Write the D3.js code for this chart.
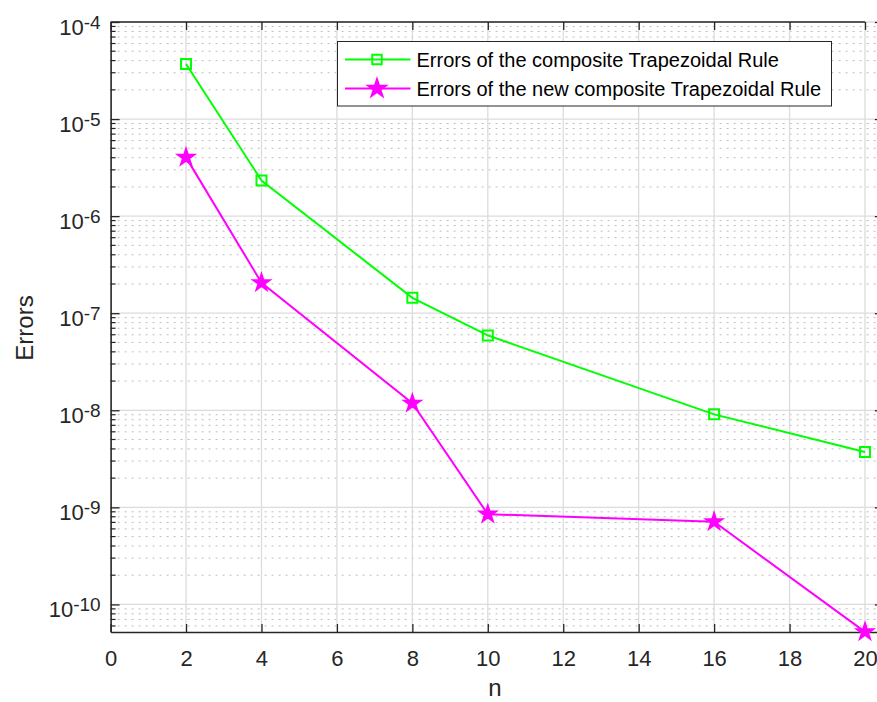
<!DOCTYPE html>
<html>
<head>
<meta charset="utf-8">
<script src="https://cdn.jsdelivr.net/npm/d3@7"></script>
<style>
body{margin:0;background:#fff}
text{font-family:"Liberation Sans",Arial,Helvetica,sans-serif}
</style>
</head>
<body>
<svg width="877" height="702"></svg>
<script>
// data
var nValues = [2, 4, 8, 10, 16, 20];
var errTrap = [3.69e-5, 2.33e-6, 1.44e-7, 5.91e-8, 9.08e-9, 3.71e-9];
var errNewTrap = [4.03e-6, 2.06e-7, 1.18e-8, 8.51e-10, 7.10e-10, 5.22e-11];
var seriesNames = ["Errors of the composite Trapezoidal Rule", "Errors of the new composite Trapezoidal Rule"];
var xTicks = [0, 2, 4, 6, 8, 10, 12, 14, 16, 18, 20];
var yTicks = [1e-10, 1e-9, 1e-8, 1e-7, 1e-6, 1e-5, 1e-4];

var axisColor = "#262626";
var plotLeft = 110.6, plotTop = 22, plotBottom = 632;

var svg = d3.select("svg");

var x = d3.scaleLinear().domain([0, 20.5]).range([plotLeft, plotLeft + 20.5 * 37.72]);
var y = d3.scaleLog().domain([5.2e-11, 1e-4]).range([plotBottom, plotTop]);

// minor values 2..9 per decade
var yMinor = [];
for (var e = -11; e < -4; e++) {
  for (var m = 2; m <= 9; m++) {
    var v = m * Math.pow(10, e);
    if (v >= y.domain()[0] && v <= y.domain()[1]) yMinor.push(v);
  }
}

var grid = svg.append("g");
grid.selectAll(".ymin").data(yMinor).enter().append("line")
  .attr("x1", plotLeft).attr("x2", 877)
  .attr("y1", function(d){ return y(d); }).attr("y2", function(d){ return y(d); })
  .attr("stroke", "#bdbdbd").attr("stroke-width", 1).attr("stroke-dasharray", "2,5");
grid.selectAll(".ymaj").data(yTicks).enter().append("line")
  .attr("x1", plotLeft).attr("x2", 877)
  .attr("y1", function(d){ return y(d); }).attr("y2", function(d){ return y(d); })
  .attr("stroke", "#dcdcdc").attr("stroke-width", 1.3);
grid.selectAll(".xmaj").data(xTicks.slice(1)).enter().append("line")
  .attr("x1", function(d){ return x(d); }).attr("x2", function(d){ return x(d); })
  .attr("y1", plotTop).attr("y2", plotBottom)
  .attr("stroke", "#dcdcdc").attr("stroke-width", 1.3);

// axes
var xAxis = d3.axisBottom(x).tickValues(xTicks).tickSizeInner(-8).tickSizeOuter(0).tickPadding(18);
var gx = svg.append("g").attr("transform", "translate(0," + plotBottom + ")").call(xAxis);
gx.selectAll("text").attr("font-size", 22).attr("fill", axisColor);

var gxTop = svg.append("g").attr("transform", "translate(0," + plotTop + ")")
  .call(d3.axisTop(x).tickValues(xTicks).tickSizeInner(-8).tickSizeOuter(0).tickFormat(""));
gxTop.select(".domain").remove();
svg.append("line").attr("x1", plotLeft).attr("x2", x(20)).attr("y1", plotTop).attr("y2", plotTop)
  .attr("stroke", axisColor).attr("stroke-width", 1.6);

var gy = svg.append("g").attr("transform", "translate(" + plotLeft + ",0)")
  .call(d3.axisLeft(y).tickValues(yTicks).tickSizeInner(-9).tickSizeOuter(0).tickPadding(10));
gy.selectAll(".tick text").text(null).attr("dy", 12).attr("font-size", 22).attr("fill", axisColor)
  .each(function(d){
    var t = d3.select(this);
    t.append("tspan").text("10");
    t.append("tspan").attr("dy", -6).attr("font-size", 19).text(Math.round(Math.log10(d)));
  });
gy.selectAll(".minor").data(yMinor).enter().append("line")
  .attr("x1", 0).attr("x2", 5)
  .attr("y1", function(d){ return y(d); }).attr("y2", function(d){ return y(d); })
  .attr("stroke", axisColor).attr("stroke-width", 1.2);

var gyR = svg.append("g").attr("transform", "translate(" + x(20.5) + ",0)")
  .call(d3.axisRight(y).tickValues(yTicks).tickSizeInner(-9).tickSizeOuter(0).tickFormat(""));

svg.selectAll(".domain").attr("stroke", axisColor).attr("stroke-width", 1.6);
svg.selectAll(".tick line").attr("stroke", axisColor).attr("stroke-width", 1.3);

// axis labels
svg.append("text").attr("x", 495).attr("y", 696).attr("text-anchor", "middle")
  .attr("font-size", 24).attr("fill", axisColor).text("n");
svg.append("text").attr("transform", "translate(33,328) rotate(-90)").attr("text-anchor", "middle")
  .attr("font-size", 24).attr("fill", axisColor).text("Errors");

// series
var line = d3.line().x(function(d){ return x(d[0]); }).y(function(d){ return y(d[1]); });
var series = [
  {name: seriesNames[0], values: errTrap, color: "#00ff00", symbol: d3.symbolSquare, size: 100, fill: "none", legSize: 90},
  {name: seriesNames[1], values: errNewTrap, color: "#ff00ff", symbol: d3.symbolStar, size: 80, fill: "#ff00ff", legSize: 95}
];

series.forEach(function(s){
  var pts = nValues.map(function(n, i){ return [n, s.values[i]]; });
  svg.append("path").datum(pts).attr("d", line)
    .attr("fill", "none").attr("stroke", s.color).attr("stroke-width", 2);
  svg.selectAll(null).data(pts).enter().append("path")
    .attr("d", d3.symbol().type(s.symbol).size(s.size))
    .attr("transform", function(d){ return "translate(" + x(d[0]) + "," + y(d[1]) + ")"; })
    .attr("fill", s.fill).attr("stroke", s.color).attr("stroke-width", 2);
});

// legend
var leg = svg.append("g");
leg.append("rect").attr("x", 337.5).attr("y", 41.5).attr("width", 494).attr("height", 64.5)
  .attr("fill", "#fff").attr("stroke", axisColor).attr("stroke-width", 1);
series.forEach(function(s, i){
  var ly = 59.5 + i * 29;
  leg.append("line").attr("x1", 345).attr("x2", 410.5).attr("y1", ly).attr("y2", ly)
    .attr("stroke", s.color).attr("stroke-width", 2);
  leg.append("path").attr("d", d3.symbol().type(s.symbol).size(s.legSize))
    .attr("transform", "translate(377," + ly + ")")
    .attr("fill", s.fill).attr("stroke", s.color).attr("stroke-width", 2);
  leg.append("text").attr("x", 416.5).attr("y", ly + 7).attr("font-size", 20)
    .attr("fill", "#000").text(s.name);
});
</script>
</body>
</html>
